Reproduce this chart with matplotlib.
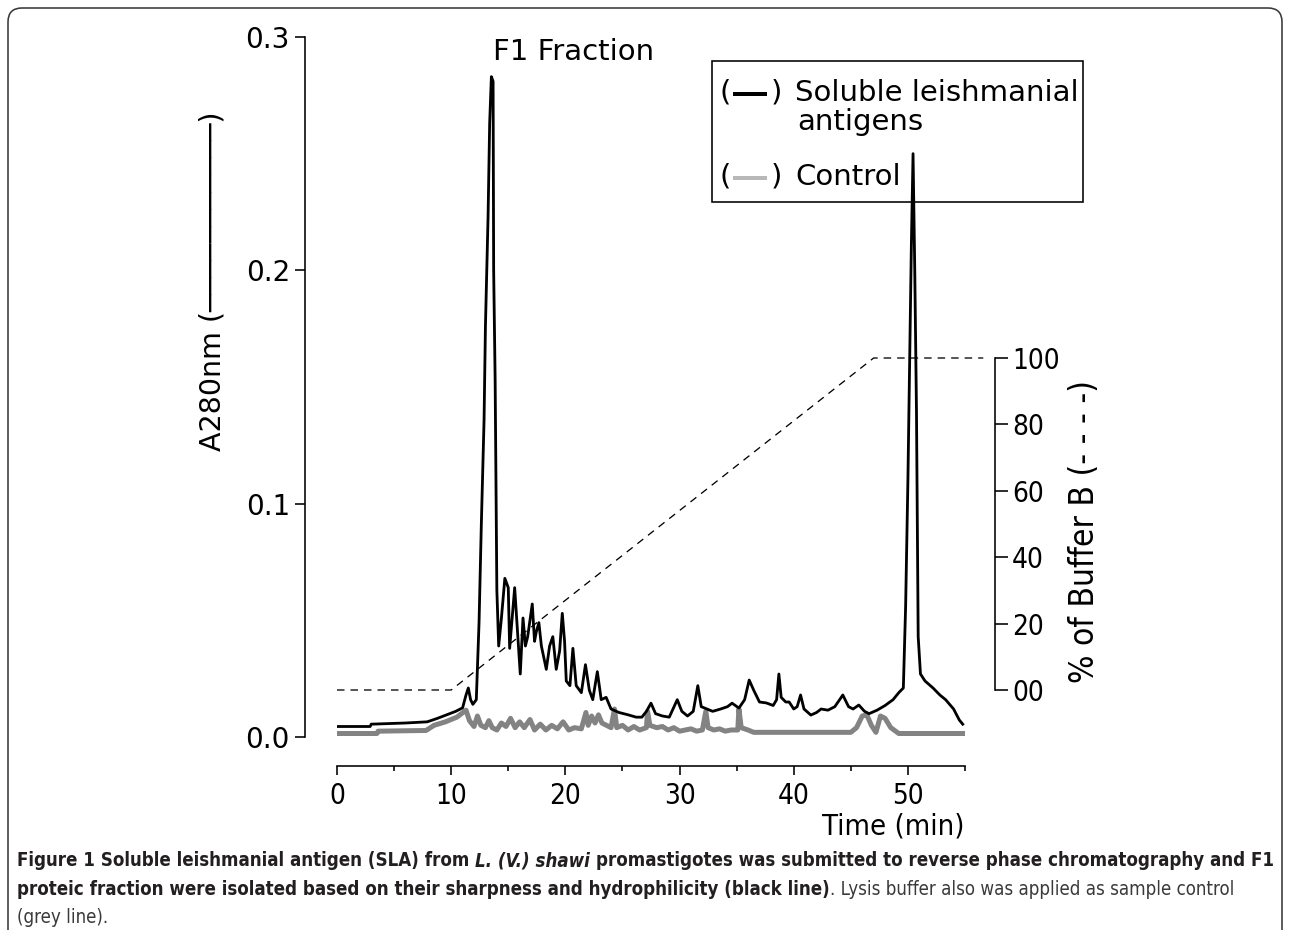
import os
import matplotlib
matplotlib.use('Agg')
import matplotlib.pyplot as plt
from matplotlib import font_manager as fm
from matplotlib.font_manager import FontProperties
from matplotlib.patches import FancyBboxPatch, Rectangle
from matplotlib.lines import Line2D
from matplotlib.transforms import IdentityTransform

plt.rcParams['lines.scale_dashes'] = False

# ---------------- data ----------------
sla_time = [0, 2.9, 3.0, 6.0, 7.9, 8.8, 9.6, 10.4, 11.0, 11.3,
            11.5, 11.7, 11.9, 12.2, 12.44, 12.64, 12.88, 13.0, 13.23, 13.37,
            13.52, 13.67, 13.72, 13.85, 14.0, 14.16, 14.4, 14.7, 15.0, 15.12,
            15.56, 15.85, 16.05, 16.29, 16.5, 16.7, 17.1, 17.3, 17.45, 17.68,
            17.9, 18.33, 18.62, 18.9, 19.2, 19.5, 19.73, 19.93, 20.08, 20.4,
            20.66, 20.95, 21.4, 21.76, 22.1, 22.4, 22.8, 23.14, 23.57, 24.0,
            24.7, 25.5, 26.2, 26.7, 27.1, 27.5, 27.9, 28.5, 29.1, 29.8,
            30.2, 30.7, 31.2, 31.6, 31.9, 32.4, 32.9, 33.6, 34.2, 34.6,
            35.2, 35.7, 36.1, 36.5, 37.0, 37.6, 38.2, 38.5, 38.7, 38.9,
            39.3, 39.6, 40.0, 40.3, 40.6, 40.9, 41.5, 42.0, 42.4, 43.0,
            43.6, 44.3, 44.8, 45.2, 45.7, 46.2, 46.6, 47.3, 48.0, 48.7,
            49.2, 49.6, 49.8, 50.0, 50.15, 50.3, 50.45, 50.6, 50.75, 50.9,
            51.1, 51.5, 52.2, 52.8, 53.3, 54.0, 54.5, 54.8]
sla_abs = [.0045, .0045, .0055, .006, .0065, .008, .0095, .011, .0125, .018,
           .021, .016, .014, .016, .049, .091, .136, .176, .223, .263,
           .283, .281, .20, .153, .063, .039, .051, .068, .064, .038,
           .064, .042, .027, .051, .039, .043, .057, .041, .045, .049,
           .039, .029, .039, .043, .029, .037, .053, .041, .024, .022,
           .038, .022, .019, .031, .020, .016, .028, .016, .017, .012,
           .0105, .0095, .0085, .0085, .011, .0145, .010, .009, .0085, .016,
           .011, .009, .011, .022, .013, .012, .011, .012, .013, .0145,
           .0124, .016, .0244, .020, .015, .0146, .0135, .016, .027, .017,
           .015, .015, .012, .013, .018, .012, .0094, .0105, .012, .0115,
           .013, .018, .013, .012, .0137, .011, .010, .0115, .0135, .016,
           .019, .021, .056, .11, .16, .21, .25, .20, .14, .043,
           .027, .024, .021, .018, .016, .012, .0073, .0055]

ctrl_time = [0, 3.5, 3.6, 7.8, 8.5, 9.5, 10.5, 11.3, 11.6, 12.0,
             12.3, 12.6, 13.0, 13.3, 13.6, 14.0, 14.4, 14.8, 15.2, 15.6,
             16.0, 16.4, 16.9, 17.3, 17.8, 18.3, 18.8, 19.3, 19.8, 20.3,
             20.8, 21.4, 21.8, 22.0, 22.3, 22.6, 22.9, 23.2, 23.6, 24.0,
             24.3, 24.5, 25.0, 25.5, 26.0, 26.5, 27.1, 27.2, 27.4, 28.0,
             28.5, 29.0, 29.5, 30.0, 30.5, 31.0, 31.5, 32.0, 32.3, 32.5,
             33.0, 33.5, 34.0, 34.5, 35.1, 35.2, 35.4, 36.0, 36.5, 45.0,
             45.5, 46.0, 46.4, 46.8, 47.2, 47.6, 48.0, 48.5, 49.2, 55.0]
ctrl_abs = [.0015, .0015, .0025, .0028, .005, .0065, .0085, .0115, .007, .0045,
            .009, .005, .004, .007, .004, .003, .006, .0045, .008, .004,
            .0065, .004, .0075, .003, .0055, .003, .005, .0035, .0065, .003,
            .004, .0035, .0105, .005, .009, .006, .0095, .006, .005, .004,
            .012, .004, .005, .003, .0045, .003, .004, .011, .005, .004,
            .0045, .003, .004, .0025, .003, .0035, .0025, .003, .011, .004,
            .003, .0035, .0025, .003, .003, .012, .004, .003, .002, .002,
            .004, .009, .0095, .005, .002, .009, .008, .004, .0015, .0015]

grad_time = [0, 10, 47, 56.6]
grad_pct = [0, 0, 100, 100]

abs_ticks = [0.0, 0.1, 0.2, 0.3]
abs_ticklabels = ['0.0', '0.1', '0.2', '0.3']
time_ticks = [0, 10, 20, 30, 40, 50]
time_minor = [5, 15, 25, 35, 45, 55]
pct_ticks = [0, 20, 40, 60, 80, 100]
pct_ticklabels = ['00', '20', '40', '60', '80', '100']

legend_labels = ['Soluble leishmanial', 'antigens', 'Control']
peak_label = 'F1 Fraction'
xlabel = 'Time (min)'
ylabel_left = 'A280nm (' + '\u2500' * 11 + ')'
ylabel_right = '% of Buffer B (- - - -)'

# ---------------- fonts ----------------
ttf = fm.fontManager.ttflist


def find_file(*names):
    for n in names:
        for f in ttf:
            if os.path.basename(f.fname) == n:
                return f.fname
    return None


NARROW_REG = find_file('DejaVuSansCondensed.ttf', 'LiberationSansNarrow-Regular.ttf')
NARROW_BOLD = find_file('DejaVuSansCondensed-Bold.ttf', 'LiberationSansNarrow-Bold.ttf')
NARROW_BI = find_file('DejaVuSansCondensed-BoldOblique.ttf', 'LiberationSansNarrow-BoldItalic.ttf')


def narrow(size, kind='reg'):
    f = {'reg': NARROW_REG, 'bold': NARROW_BOLD, 'bi': NARROW_BI}[kind]
    if f:
        return FontProperties(fname=f, size=size)
    w = 'bold' if kind in ('bold', 'bi') else 'normal'
    s = 'italic' if kind == 'bi' else 'normal'
    return FontProperties(family='DejaVu Sans', weight=w, style=s, size=size)


def sans(size):
    return FontProperties(family='DejaVu Sans', size=size)


# ---------------- layout helpers ----------------
W, H = 1290, 930
PT = 72 / 100.0


def fx(px):
    return px / W


def fy(py):
    return 1 - py / H


fig = plt.figure(figsize=(W / 100, H / 100), dpi=100)

# outer rounded frame
frame = FancyBboxPatch((8, -30), 1274, H - 8 + 30,
                       boxstyle='round,pad=0,rounding_size=14',
                       transform=IdentityTransform(), fill=False,
                       ec='#3a3a3a', lw=1.6 * PT)
fig.add_artist(frame)

X0, X1 = 337, 965      # pixel of t=0 and t=55
Y0, Y1 = 737, 37       # pixel of A=0 and A=0.3
ax = fig.add_axes([fx(X0), fy(Y0), (X1 - X0) / W, (Y0 - Y1) / H])
ax.patch.set_visible(False)
ax.set_xlim(0, 55)
ax.set_ylim(0, 0.3)
for s in ('top', 'right'):
    ax.spines[s].set_visible(False)
ax.spines['left'].set_position(('outward', 32 * PT))
ax.spines['bottom'].set_position(('outward', 29 * PT))
for s in ('left', 'bottom'):
    ax.spines[s].set_linewidth(1.6 * PT)

ax.plot(ctrl_time, ctrl_abs, color='#838383', lw=5.0 * PT, zorder=2,
        solid_joinstyle='round')
ax.plot(sla_time, sla_abs, color='black', lw=2.8 * PT, zorder=3)

ax.set_yticks(abs_ticks)
ax.set_yticklabels(abs_ticklabels, fontproperties=sans(20))
ax.tick_params(axis='y', direction='out', length=10 * PT, width=1.6 * PT, pad=5 * PT)

ax.set_xticks(time_ticks)
ax.set_xticks(time_minor, minor=True)
ax.set_xticklabels([str(v) for v in time_ticks], fontproperties=narrow(20))
ax.tick_params(axis='x', which='major', direction='out', length=9 * PT,
               width=1.6 * PT, pad=7 * PT)
ax.tick_params(axis='x', which='minor', direction='out', length=5 * PT,
               width=1.6 * PT)

# right axis (% of buffer B)
P0, P100 = 690, 358
ppx = 100.0 / (P0 - P100)
ax2 = ax.twinx()
ax2.patch.set_visible(False)
ax2.set_ylim(-(Y0 - P0) * ppx, 100 + (P100 - Y1) * ppx)
for s in ('top', 'left', 'bottom'):
    ax2.spines[s].set_visible(False)
ax2.spines['right'].set_position(('outward', 30 * PT))
ax2.spines['right'].set_bounds(0, 100)
ax2.spines['right'].set_linewidth(1.6 * PT)
ax2.set_yticks(pct_ticks)
ax2.set_yticklabels(pct_ticklabels, fontproperties=narrow(20))
ax2.tick_params(axis='y', direction='out', length=13 * PT, width=1.6 * PT, pad=4 * PT)
ax2.plot(grad_time, grad_pct, color='black', lw=1.3 * PT,
         dashes=(7.5 * PT, 6 * PT), clip_on=False, zorder=1)

# labels
fig.text(fx(X1), fy(826), xlabel, ha='right', va='center', fontproperties=narrow(21))
fig.text(fx(212), fy(281), ylabel_left, rotation=90, ha='center', va='center',
         fontproperties=sans(20.5))
fig.text(fx(1084), fy(532), ylabel_right, rotation=90, ha='center', va='center',
         fontproperties=narrow(24))
fig.text(fx(493), fy(52), peak_label, ha='left', va='center', fontproperties=sans(21))

# legend box
fig.add_artist(Rectangle((fx(712), fy(202)), (1083 - 712) / W, (202 - 61) / H,
                         transform=fig.transFigure, fill=False, lw=1.6 * PT, ec='black'))
for yy, col in ((93, 'black'), (177, '#b8b8b8')):
    fig.text(fx(720), fy(yy), '(', ha='left', va='center', fontproperties=sans(21))
    fig.text(fx(771), fy(yy), ')', ha='left', va='center', fontproperties=sans(21))
    fig.add_artist(Line2D([fx(735), fx(765)], [fy(yy + 1), fy(yy + 1)],
                          transform=fig.transFigure, color=col, lw=4 * PT))
fig.text(fx(795), fy(93), legend_labels[0], ha='left', va='center', fontproperties=sans(21))
fig.text(fx(797), fy(122), legend_labels[1], ha='left', va='center', fontproperties=sans(21))
fig.text(fx(795), fy(177), legend_labels[2], ha='left', va='center', fontproperties=sans(21))

# caption
cap_lines = [
    [('Figure 1 Soluble leishmanial antigen (SLA) from', 'bold', '#231f20'),
     ('L. (V.) shawi', 'bi', '#231f20'),
     ('promastigotes was submitted to reverse phase chromatography and F1', 'bold', '#231f20')],
    [('proteic fraction were isolated based on their sharpness and hydrophilicity (black line)', 'bold', '#231f20'),
     ('. Lysis buffer also was applied as sample control', 'reg', '#3a3a3a')],
    [('(grey line).', 'reg', '#3a3a3a')],
]
cap_baselines = [866, 895, 923]
CAP_X0, CAP_X1 = 17, 1277

renderer = fig.canvas.get_renderer()


def width_of(s, fp):
    t = fig.text(0, 0, s, fontproperties=fp)
    w = t.get_window_extent(renderer=renderer).width
    t.remove()
    return w


def line_width(pieces, size):
    sp = width_of('a a', narrow(size, 'bold')) - width_of('aa', narrow(size, 'bold'))
    total = 0
    for i, (s, k, c) in enumerate(pieces):
        total += width_of(s, narrow(size, k))
        if i < len(pieces) - 1 and not pieces[i + 1][0].startswith('.'):
            total += sp
    return total


base = 15.0
cap_size = base * (CAP_X1 - CAP_X0) / line_width(cap_lines[0], base)
space_w = width_of('a a', narrow(cap_size, 'bold')) - width_of('aa', narrow(cap_size, 'bold'))

for pieces, yb in zip(cap_lines, cap_baselines):
    x = CAP_X0
    for i, (s, k, c) in enumerate(pieces):
        fp = narrow(cap_size, k)
        fig.text(fx(x), fy(yb), s, ha='left', va='baseline', fontproperties=fp, color=c)
        x += width_of(s, fp)
        if i < len(pieces) - 1 and not pieces[i + 1][0].startswith('.'):
            x += space_w

fig.savefig('out.png', dpi=100, facecolor='white')
